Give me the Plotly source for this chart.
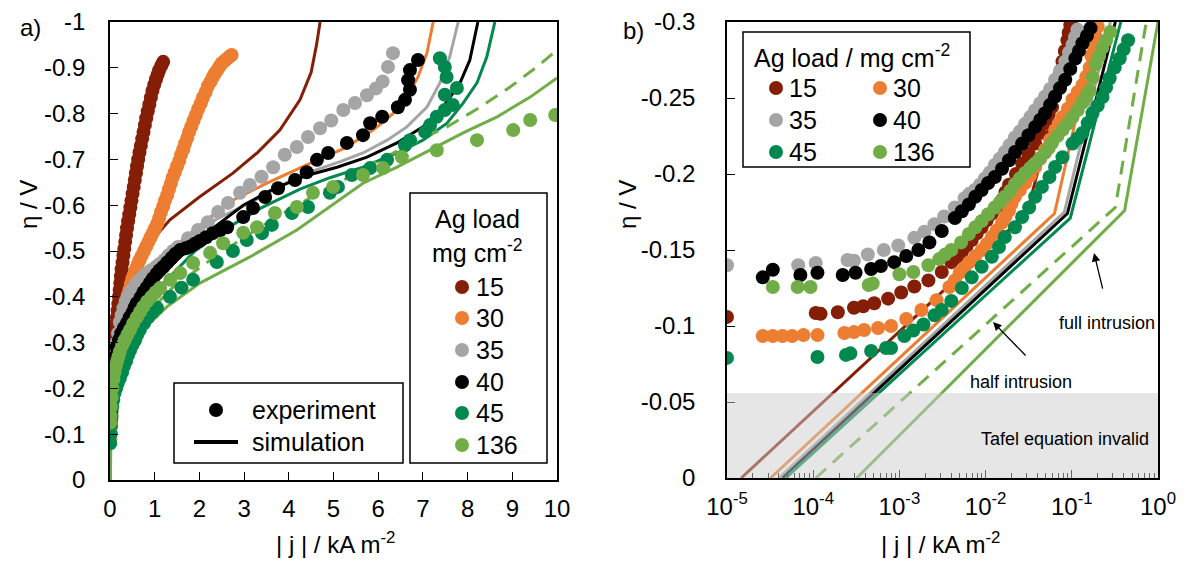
import plotly.graph_objects as go
import numpy as np

W, H = 1184, 562
FONT = "Liberation Sans, Arial, sans-serif"

LOADS = ["15", "30", "35", "40", "45", "136"]
COLORS = ["#841E06", "#ED7D31", "#A5A5A5", "#000000", "#00884F", "#70AD47"]

# ---------------- panel a) linear scale: experiment ----------------
j_a_exp_15 = [0.01,0.015,0.02,0.025,0.03,0.035,0.04,0.047,0.055,0.062,0.07,0.08,0.09,0.1,0.11,0.125,0.14,0.155,0.17,0.185,0.2,0.215,0.23,0.245,0.26,0.28,0.3,0.32,0.34,0.36,0.38,0.405,0.43,0.455,0.48,0.505,0.53,0.555,0.58,0.605,0.63,0.66,0.69,0.72,0.75,0.78,0.81,0.845,0.88,0.915,0.95,0.99,1.03,1.065,1.1,1.15,1.19]
eta_a_exp_15 = [-0.10,-0.115,-0.13,-0.145,-0.16,-0.175,-0.19,-0.205,-0.22,-0.235,-0.25,-0.265,-0.28,-0.295,-0.31,-0.325,-0.34,-0.355,-0.37,-0.385,-0.40,-0.415,-0.43,-0.445,-0.46,-0.475,-0.49,-0.505,-0.52,-0.535,-0.55,-0.565,-0.58,-0.595,-0.61,-0.625,-0.64,-0.655,-0.67,-0.685,-0.70,-0.715,-0.73,-0.745,-0.76,-0.775,-0.79,-0.805,-0.82,-0.835,-0.85,-0.863,-0.875,-0.885,-0.895,-0.905,-0.913]
j_a_exp_30 = [0.01,0.015,0.02,0.03,0.04,0.05,0.06,0.075,0.09,0.105,0.12,0.14,0.16,0.18,0.2,0.225,0.25,0.275,0.3,0.33,0.36,0.395,0.43,0.465,0.5,0.54,0.58,0.62,0.66,0.71,0.76,0.81,0.86,0.91,0.96,1.01,1.06,1.1,1.14,1.19,1.23,1.28,1.32,1.36,1.4,1.45,1.5,1.55,1.59,1.64,1.68,1.73,1.77,1.82,1.87,1.92,1.97,2.03,2.08,2.14,2.19,2.25,2.3,2.35,2.4,2.45,2.5,2.56,2.62,2.67,2.72]
eta_a_exp_30 = [-0.09,-0.105,-0.12,-0.135,-0.15,-0.165,-0.18,-0.195,-0.21,-0.225,-0.24,-0.255,-0.27,-0.285,-0.30,-0.315,-0.33,-0.345,-0.36,-0.375,-0.39,-0.403,-0.415,-0.428,-0.44,-0.45,-0.46,-0.47,-0.48,-0.49,-0.50,-0.51,-0.52,-0.53,-0.54,-0.55,-0.56,-0.572,-0.585,-0.597,-0.61,-0.622,-0.635,-0.647,-0.66,-0.672,-0.685,-0.697,-0.71,-0.722,-0.735,-0.747,-0.76,-0.772,-0.785,-0.797,-0.81,-0.822,-0.835,-0.847,-0.86,-0.87,-0.88,-0.888,-0.895,-0.903,-0.91,-0.915,-0.92,-0.924,-0.928]
j_a_exp_35 = [0.01,0.02,0.03,0.045,0.06,0.08,0.1,0.125,0.15,0.18,0.22,0.26,0.3,0.35,0.4,0.46,0.52,0.58,0.65,0.72,0.8,0.88,0.96,1.04,1.12,1.21,1.3,1.41,1.52,1.75,1.97,2.19,2.42,2.64,2.91,3.13,3.39,3.65,3.91,4.18,4.43,4.7,4.95,5.22,5.48,5.75,5.95,6.1,6.22,6.33]
eta_a_exp_35 = [-0.14,-0.16,-0.18,-0.20,-0.22,-0.24,-0.26,-0.28,-0.30,-0.32,-0.345,-0.36,-0.375,-0.39,-0.40,-0.41,-0.42,-0.428,-0.435,-0.443,-0.45,-0.455,-0.46,-0.466,-0.472,-0.48,-0.49,-0.50,-0.509,-0.528,-0.546,-0.563,-0.585,-0.605,-0.627,-0.644,-0.662,-0.683,-0.71,-0.727,-0.749,-0.768,-0.785,-0.808,-0.823,-0.84,-0.855,-0.87,-0.902,-0.932]
j_a_exp_40 = [0.01,0.02,0.03,0.045,0.06,0.08,0.1,0.125,0.15,0.2,0.25,0.31,0.38,0.44,0.5,0.55,0.6,0.68,0.75,0.82,0.89,0.96,1.04,1.11,1.19,1.28,1.38,1.47,1.57,1.69,1.8,1.9,2.01,2.15,2.3,2.46,2.62,2.98,3.2,3.47,3.76,4.14,4.4,4.63,4.88,5.3,5.66,5.82,6.09,6.44,6.6,6.71,6.67,6.71,6.89]
eta_a_exp_40 = [-0.13,-0.15,-0.17,-0.19,-0.21,-0.23,-0.25,-0.27,-0.29,-0.305,-0.32,-0.332,-0.343,-0.355,-0.365,-0.376,-0.386,-0.398,-0.41,-0.42,-0.43,-0.44,-0.45,-0.458,-0.465,-0.475,-0.485,-0.494,-0.502,-0.506,-0.51,-0.516,-0.522,-0.53,-0.539,-0.545,-0.552,-0.574,-0.594,-0.618,-0.637,-0.655,-0.672,-0.699,-0.714,-0.736,-0.753,-0.779,-0.793,-0.814,-0.83,-0.852,-0.873,-0.895,-0.917]
j_a_exp_45 = [0.005,0.01,0.02,0.035,0.05,0.075,0.1,0.135,0.17,0.22,0.27,0.31,0.36,0.4,0.45,0.5,0.56,0.61,0.67,0.76,0.85,0.95,1.05,1.34,1.6,1.86,2.39,2.75,3.06,3.4,3.62,4.07,4.43,4.92,5.1,5.41,5.82,6.2,6.6,6.71,7.05,7.16,7.31,7.49,7.67,7.49,7.76,7.53,7.49,7.38]
eta_a_exp_45 = [-0.08,-0.10,-0.12,-0.14,-0.16,-0.175,-0.19,-0.20,-0.21,-0.222,-0.235,-0.248,-0.26,-0.272,-0.284,-0.295,-0.305,-0.317,-0.328,-0.342,-0.355,-0.366,-0.376,-0.40,-0.42,-0.437,-0.476,-0.50,-0.524,-0.539,-0.557,-0.583,-0.596,-0.627,-0.64,-0.666,-0.681,-0.699,-0.731,-0.742,-0.76,-0.775,-0.793,-0.808,-0.819,-0.841,-0.856,-0.88,-0.902,-0.921]
j_a_exp_136 = [0.005,0.01,0.02,0.035,0.05,0.075,0.1,0.13,0.16,0.19,0.22,0.27,0.33,0.39,0.45,0.52,0.6,0.67,0.74,0.83,0.93,1.02,1.12,1.35,1.57,1.86,2.24,2.53,2.98,3.29,3.69,4.18,4.54,4.99,5.66,6.11,6.53,7.31,8.21,9.02,9.4,9.96]
eta_a_exp_136 = [-0.125,-0.14,-0.16,-0.18,-0.2,-0.22,-0.235,-0.248,-0.26,-0.27,-0.28,-0.293,-0.305,-0.317,-0.328,-0.342,-0.355,-0.367,-0.378,-0.39,-0.40,-0.41,-0.419,-0.437,-0.452,-0.474,-0.496,-0.517,-0.54,-0.552,-0.583,-0.596,-0.627,-0.64,-0.666,-0.681,-0.705,-0.72,-0.742,-0.764,-0.786,-0.797]

# ---------------- panel a) simulation ----------------
j_a_sim_15 = [0,0.01,0.05,0.2,0.5,1.0,1.34,2.0,2.75,3.3,3.8,4.25,4.5,4.62,4.7]
eta_a_sim_15 = [0,-0.2,-0.3,-0.38,-0.47,-0.53,-0.568,-0.618,-0.67,-0.715,-0.764,-0.83,-0.89,-0.95,-1.0]
j_a_sim_30 = [0,0.005,0.02,0.08,0.2,0.45,0.8,1.2,1.7,2.24,2.75,3.51,4.4,5.26,5.9,6.33,6.64,6.89,7.09,7.23]
eta_a_sim_30 = [0,-0.1,-0.2,-0.28,-0.34,-0.4,-0.45,-0.49,-0.53,-0.574,-0.611,-0.648,-0.688,-0.725,-0.765,-0.80,-0.836,-0.88,-0.932,-1.0]
j_a_sim_35 = [0,0.005,0.02,0.08,0.2,0.45,0.8,1.3,1.8,2.39,3.13,4.25,5.15,5.66,6.2,6.64,7.09,7.38,7.6,7.79]
eta_a_sim_35 = [0,-0.1,-0.18,-0.26,-0.32,-0.38,-0.43,-0.48,-0.53,-0.57,-0.605,-0.665,-0.695,-0.714,-0.742,-0.771,-0.814,-0.867,-0.924,-1.0]
j_a_sim_40 = [0,0.005,0.02,0.08,0.2,0.45,0.8,1.3,1.8,2.24,2.98,3.65,4.4,5.08,5.75,6.42,7.0,7.45,7.83,8.05,8.23]
eta_a_sim_40 = [0,-0.1,-0.17,-0.24,-0.3,-0.36,-0.41,-0.46,-0.51,-0.545,-0.6,-0.635,-0.665,-0.683,-0.705,-0.736,-0.771,-0.814,-0.867,-0.917,-1.0]
j_a_sim_45 = [0,0.005,0.02,0.08,0.2,0.45,0.8,1.3,1.9,2.62,3.36,4.25,4.92,5.66,6.42,7.0,7.54,7.9,8.21,8.43,8.61]
eta_a_sim_45 = [0,-0.08,-0.15,-0.22,-0.28,-0.34,-0.39,-0.44,-0.5,-0.55,-0.593,-0.635,-0.66,-0.683,-0.714,-0.742,-0.779,-0.823,-0.867,-0.924,-1.0]
j_a_sim_136_half = [0.005,0.01,0.05,0.15,0.4,0.8,1.4,2.1,3.0,4.0,4.92,5.37,6.04,6.78,7.54,8.28,8.95,9.55,10.0]
eta_a_sim_136_half = [0,-0.1,-0.17,-0.23,-0.3,-0.36,-0.42,-0.47,-0.53,-0.59,-0.64,-0.662,-0.699,-0.736,-0.771,-0.814,-0.858,-0.902,-0.939]
j_a_sim_136_full = [0.01,0.02,0.05,0.11,0.22,0.45,0.74,1.27,2.01,3.13,4.18,4.92,5.66,6.42,7.16,7.9,8.66,9.4,10.0]
eta_a_sim_136_full = [0,-0.1,-0.14,-0.153,-0.197,-0.269,-0.328,-0.378,-0.43,-0.487,-0.546,-0.596,-0.648,-0.683,-0.72,-0.758,-0.793,-0.836,-0.878]

# ---------------- panel b) log scale: experiment ----------------
j_b_exp_15 = [1.0e-5,1.07e-4,1.22e-4,1.93e-4,2.97e-4,3.8e-4,5.1e-4,7.4e-4,1.05e-3,1.49e-3,2.17e-3,3.1e-3,4.0e-3,5.3e-3,6.9e-3,9.0e-3,1.18e-2,1.55e-2,1.87e-2,2.65e-2,3.76e-2,4.9e-2,5.9e-2,6.8e-2,7.8e-2,8.9e-2,9.6e-2,
              4.6e-3,6.0e-3,7.9e-3,1.03e-2,1.35e-2,1.7e-2,2.25e-2,3.15e-2,4.3e-2,5.4e-2,6.3e-2,7.3e-2,8.3e-2,9.2e-2]
eta_b_exp_15 = [-0.106,-0.1086,-0.108,-0.109,-0.112,-0.113,-0.115,-0.118,-0.122,-0.126,-0.130,-0.1355,-0.142,-0.1487,-0.1566,-0.165,-0.174,-0.183,-0.193,-0.207,-0.220,-0.2335,-0.244,-0.2585,-0.274,-0.288,-0.298,
                -0.145,-0.1527,-0.161,-0.1695,-0.1785,-0.188,-0.200,-0.2135,-0.227,-0.239,-0.251,-0.266,-0.281,-0.293]
j_b_exp_30 = [2.6e-5,3.4e-5,4.4e-5,5.7e-5,7.7e-5,1.12e-4,2.3e-4,2.97e-4,3.9e-4,5.65e-4,8.0e-4,1.2e-3,1.8e-3,2.7e-3,3.8e-3,5.0e-3,6.5e-3,9.0e-3,1.18e-2,1.55e-2,1.87e-2,2.19e-2,2.87e-2,3.76e-2,4.9e-2,6.4e-2,7.8e-2,1.02e-1,1.33e-1,1.61e-1,1.74e-1,2.0e-1,
              4.4e-3,5.7e-3,7.6e-3,1.03e-2,1.35e-2,1.7e-2,2.0e-2,2.5e-2,3.3e-2,4.3e-2,5.6e-2,7.1e-2,9.0e-2,1.17e-1,1.47e-1,1.68e-1,1.87e-1]
eta_b_exp_30 = [-0.0934,-0.0934,-0.0934,-0.0934,-0.094,-0.094,-0.0954,-0.096,-0.0974,-0.0987,-0.100,-0.1046,-0.1105,-0.117,-0.1257,-0.135,-0.142,-0.150,-0.1586,-0.168,-0.176,-0.185,-0.194,-0.2046,-0.216,-0.229,-0.2375,-0.249,-0.2586,-0.270,-0.285,-0.297,
                -0.130,-0.1385,-0.146,-0.154,-0.163,-0.172,-0.1805,-0.1895,-0.199,-0.210,-0.2225,-0.233,-0.243,-0.254,-0.264,-0.278,-0.291]
j_b_exp_35 = [1.0e-5,6.7e-5,1.07e-4,2.5e-4,2.97e-4,4.3e-4,6.6e-4,9.7e-4,1.49e-3,1.95e-3,2.55e-3,3.3e-3,4.4e-3,5.7e-3,7.5e-3,9.8e-3,1.28e-2,1.67e-2,2.19e-2,2.87e-2,3.76e-2,4.9e-2,6.4e-2,8.4e-2,1.02e-1,1.16e-1,
              6.5e-3,8.6e-3,1.12e-2,1.46e-2,1.9e-2,2.5e-2,3.3e-2,4.3e-2,5.6e-2,7.3e-2,9.3e-2,1.09e-1]
eta_b_exp_35 = [-0.140,-0.140,-0.1415,-0.1434,-0.143,-0.147,-0.150,-0.153,-0.158,-0.162,-0.167,-0.172,-0.178,-0.184,-0.1895,-0.197,-0.206,-0.2145,-0.224,-0.233,-0.242,-0.251,-0.262,-0.274,-0.285,-0.295,
                -0.187,-0.193,-0.201,-0.210,-0.219,-0.228,-0.2375,-0.2465,-0.256,-0.268,-0.280,-0.290]
j_b_exp_40 = [2.6e-5,3.4e-5,7.1e-5,1.12e-4,2.2e-4,3.1e-4,4.7e-4,6.1e-4,8.7e-4,1.2e-3,1.66e-3,2.23e-3,3.1e-3,4.4e-3,6.4e-3,9.0e-3,1.28e-2,1.87e-2,2.65e-2,3.76e-2,4.9e-2,6.4e-2,8.4e-2,1.10e-1,1.33e-1,1.65e-1,
              5.3e-3,7.6e-3,1.07e-2,1.55e-2,2.2e-2,3.15e-2,4.3e-2,5.6e-2,7.3e-2,9.6e-2,1.21e-1,1.5e-1]
eta_b_exp_40 = [-0.132,-0.137,-0.1336,-0.135,-0.1336,-0.135,-0.1375,-0.1395,-0.142,-0.146,-0.150,-0.155,-0.1625,-0.171,-0.180,-0.1895,-0.198,-0.209,-0.220,-0.231,-0.240,-0.251,-0.262,-0.276,-0.286,-0.296,
                -0.1755,-0.185,-0.194,-0.2035,-0.2145,-0.2255,-0.2355,-0.2455,-0.2565,-0.269,-0.281,-0.291]
j_b_exp_45 = [1.0e-5,1.12e-4,2.4e-4,2.7e-4,4.7e-4,7.0e-4,8.0e-4,1.14e-3,1.45e-3,1.9e-3,2.55e-3,3.1e-3,4.0e-3,5.3e-3,6.9e-3,9.0e-3,1.18e-2,1.43e-2,1.67e-2,2.19e-2,2.65e-2,3.2e-2,3.76e-2,4.5e-2,5.5e-2,6.4e-2,7.8e-2,1.02e-1,1.33e-1,1.74e-1,2.27e-1,2.75e-1,3.6e-1,4.5e-1,
              1.17e-1,1.53e-1,2.0e-1,2.5e-1,3.15e-1,4.0e-1]
eta_b_exp_45 = [-0.079,-0.0796,-0.081,-0.082,-0.0836,-0.0855,-0.0855,-0.0934,-0.097,-0.101,-0.107,-0.1105,-0.1165,-0.125,-0.132,-0.139,-0.1455,-0.152,-0.1586,-0.165,-0.1717,-0.178,-0.185,-0.1915,-0.198,-0.2046,-0.211,-0.220,-0.227,-0.240,-0.2507,-0.263,-0.276,-0.288,
                -0.2235,-0.2335,-0.245,-0.257,-0.270,-0.282]
j_b_exp_136 = [3.4e-5,6.6e-5,9.3e-5,4.4e-4,4.9e-4,1.0e-3,1.45e-3,2.17e-3,2.9e-3,4.0e-3,5.2e-3,6.4e-3,9.0e-3,1.28e-2,1.67e-2,2.19e-2,2.87e-2,3.76e-2,4.9e-2,5.9e-2,7.8e-2,1.02e-1,1.33e-1,1.61e-1,1.89e-1,2.27e-1,2.8e-1,
               3.4e-3,7.6e-3,1.07e-2,1.47e-2,1.93e-2,2.5e-2,3.3e-2,4.3e-2,5.4e-2,6.8e-2,8.9e-2,1.17e-1,1.47e-1,1.75e-1,2.07e-1,2.5e-1]
eta_b_exp_136 = [-0.1257,-0.1257,-0.1257,-0.127,-0.128,-0.134,-0.1355,-0.140,-0.144,-0.150,-0.155,-0.1605,-0.169,-0.178,-0.185,-0.1935,-0.2007,-0.207,-0.214,-0.2205,-0.229,-0.2375,-0.247,-0.255,-0.272,-0.283,-0.2935,
                 -0.147,-0.165,-0.1735,-0.1815,-0.189,-0.197,-0.204,-0.2105,-0.217,-0.225,-0.233,-0.242,-0.251,-0.2635,-0.2775,-0.288]

# ---------------- panel b) Tafel simulation ----------------
j_b_sim_15 = [1.46e-5, 3.0e-2, 1.15e-1]
eta_b_sim_15 = [0, -0.174, -0.30]
j_b_sim_30 = [3.2e-5, 6.3e-2, 2.0e-1]
eta_b_sim_30 = [0, -0.174, -0.30]
j_b_sim_35 = [4.0e-5, 8.2e-2, 2.8e-1]
eta_b_sim_35 = [0, -0.175, -0.30]
j_b_sim_40 = [4.4e-5, 8.9e-2, 3.2e-1]
eta_b_sim_40 = [0, -0.174, -0.30]
j_b_sim_45 = [4.8e-5, 9.6e-2, 3.7e-1]
eta_b_sim_45 = [0, -0.171, -0.30]
j_b_sim_136_half = [1.07e-4, 3.2e-1, 7.3e-1]
eta_b_sim_136_half = [0, -0.178, -0.30]
j_b_sim_136_full = [3.2e-4, 4.1e-1, 1.0]
eta_b_sim_136_full = [0, -0.176, -0.30]

A_EXP = [(j_a_exp_15, eta_a_exp_15), (j_a_exp_30, eta_a_exp_30), (j_a_exp_35, eta_a_exp_35),
         (j_a_exp_40, eta_a_exp_40), (j_a_exp_45, eta_a_exp_45), (j_a_exp_136, eta_a_exp_136)]
B_EXP = [(j_b_exp_15, eta_b_exp_15), (j_b_exp_30, eta_b_exp_30), (j_b_exp_35, eta_b_exp_35),
         (j_b_exp_40, eta_b_exp_40), (j_b_exp_45, eta_b_exp_45), (j_b_exp_136, eta_b_exp_136)]
A_SIM = [(j_a_sim_15, eta_a_sim_15, 0, "solid"), (j_a_sim_30, eta_a_sim_30, 1, "solid"),
         (j_a_sim_35, eta_a_sim_35, 2, "solid"), (j_a_sim_40, eta_a_sim_40, 3, "solid"),
         (j_a_sim_45, eta_a_sim_45, 4, "solid"), (j_a_sim_136_half, eta_a_sim_136_half, 5, "14px,9px"),
         (j_a_sim_136_full, eta_a_sim_136_full, 5, "solid")]
B_SIM = [(j_b_sim_15, eta_b_sim_15, 0, "solid"), (j_b_sim_30, eta_b_sim_30, 1, "solid"),
         (j_b_sim_35, eta_b_sim_35, 2, "solid"), (j_b_sim_40, eta_b_sim_40, 3, "solid"),
         (j_b_sim_45, eta_b_sim_45, 4, "solid"), (j_b_sim_136_half, eta_b_sim_136_half, 5, "14px,9px"),
         (j_b_sim_136_full, eta_b_sim_136_full, 5, "solid")]

MS = 14
LW = 3

fig = go.Figure()
for xs, ys, ci, dash in A_SIM:
    fig.add_trace(go.Scatter(x=xs, y=ys, mode="lines", line=dict(color=COLORS[ci], width=LW, dash=dash),
                             xaxis="x", yaxis="y", showlegend=False, hoverinfo="skip"))
for (xs, ys), c in zip(A_EXP, COLORS):
    fig.add_trace(go.Scatter(x=xs, y=ys, mode="markers", marker=dict(color=c, size=MS, line=dict(width=0)),
                             xaxis="x", yaxis="y", showlegend=False))
for xs, ys, ci, dash in B_SIM:
    fig.add_trace(go.Scatter(x=xs, y=ys, mode="lines", line=dict(color=COLORS[ci], width=LW, dash=dash),
                             xaxis="x2", yaxis="y2", showlegend=False, hoverinfo="skip"))
for (xs, ys), c in zip(B_EXP, COLORS):
    fig.add_trace(go.Scatter(x=xs, y=ys, mode="markers", marker=dict(color=c, size=MS, line=dict(width=0)),
                             xaxis="x2", yaxis="y2", showlegend=False))

def px(x): return x / W
def py(y): return 1 - y / H

axis_common = dict(showline=True, linecolor="black", linewidth=1.5, mirror=True, ticks="inside",
                   tickcolor="black", ticklen=8, tickwidth=1.3, showgrid=False, zeroline=False,
                   automargin=False, tickfont=dict(family=FONT, size=24, color="black"))

a_yvals = [0, -0.1, -0.2, -0.3, -0.4, -0.5, -0.6, -0.7, -0.8, -0.9, -1.0]
a_ytext = ["0", "-0.1", "-0.2", "-0.3", "-0.4", "-0.5", "-0.6", "-0.7", "-0.8", "-0.9", "-1"]
a_xvals = list(range(0, 11))
b_yvals = [0, -0.05, -0.1, -0.15, -0.2, -0.25, -0.3]
b_ytext = ["0", "-0.05", "-0.1", "-0.15", "-0.2", "-0.25", "-0.3"]
b_xvals = [1e-5, 1e-4, 1e-3, 1e-2, 1e-1, 1]
b_xtext = ["10<sup>-5</sup>", "10<sup>-4</sup>", "10<sup>-3</sup>", "10<sup>-2</sup>", "10<sup>-1</sup>", "10<sup>0</sup>"]
b_minor = [m * 10.0 ** e for e in range(-5, 0) for m in range(2, 10)]

fig.update_layout(
    width=W, height=H, margin=dict(l=0, r=0, t=0, b=0, autoexpand=False),
    paper_bgcolor="white", plot_bgcolor="white", showlegend=False,
    font=dict(family=FONT, size=24, color="black"),
    xaxis=dict(domain=[px(110), px(557)], range=[0, 10], tickmode="array", tickvals=a_xvals,
               ticklabelstandoff=6, **axis_common),
    yaxis=dict(domain=[py(480), py(22)], range=[0, -1], tickmode="array", tickvals=a_yvals,
               ticktext=a_ytext, ticklabelstandoff=18, **axis_common),
    xaxis2=dict(domain=[px(727), px(1158)], type="log", range=[-5, 0], tickmode="array",
                tickvals=b_xvals, ticktext=b_xtext, anchor="y2", ticklabelstandoff=6,
                minor=dict(tickmode="array", tickvals=b_minor, ticks="inside", ticklen=5,
                           tickcolor="black", tickwidth=1),
                **axis_common),
    yaxis2=dict(domain=[py(478), py(22)], range=[0, -0.3], tickmode="array", tickvals=b_yvals,
                ticktext=b_ytext, anchor="x2", ticklabelstandoff=25, **axis_common),
)

shapes = []
ann = []

# Tafel-invalid region (panel b)
shapes.append(dict(type="rect", xref="x2 domain", yref="y2", x0=0, x1=1, y0=0, y1=-0.056,
                   fillcolor="rgba(205,205,205,0.5)", line=dict(width=0), layer="above"))
ann.append(dict(x=np.log10(0.083), y=-0.0257, xref="x2", yref="y2", text="Tafel equation invalid",
                showarrow=False, font=dict(size=18, family=FONT)))
ann.append(dict(x=np.log10(0.256), y=-0.102, xref="x2", yref="y2", text="full intrusion",
                showarrow=False, font=dict(size=18, family=FONT)))
ann.append(dict(x=np.log10(0.0257), y=-0.063, xref="x2", yref="y2", text="half intrusion",
                showarrow=False, font=dict(size=18, family=FONT)))
ann.append(dict(x=np.log10(0.181), y=-0.148, xref="x2", yref="y2", text="", showarrow=True,
                arrowhead=2, arrowsize=1.3, arrowwidth=1.3, arrowcolor="black", ax=9, ay=37))
ann.append(dict(x=np.log10(0.0122), y=-0.1026, xref="x2", yref="y2", text="", showarrow=True,
                arrowhead=2, arrowsize=1.3, arrowwidth=1.3, arrowcolor="black", ax=34, ay=35))

def ptext(x, y, text, size=24, xanchor="center", angle=0):
    ann.append(dict(x=px(x), y=py(y), xref="paper", yref="paper", text=text, showarrow=False,
                    xanchor=xanchor, yanchor="middle", textangle=angle,
                    font=dict(size=size, family=FONT, color="black")))

def pbox(x0, y0, x1, y1):
    shapes.append(dict(type="rect", xref="paper", yref="paper", x0=px(x0), x1=px(x1), y0=py(y1), y1=py(y0),
                       line=dict(color="black", width=1.5), fillcolor="white", layer="above"))

def pdot(cx, cy, color, r=7):
    shapes.append(dict(type="circle", xref="paper", yref="paper", x0=px(cx - r), x1=px(cx + r),
                       y0=py(cy + r), y1=py(cy - r), fillcolor=color, line=dict(width=0), layer="above"))

# panel labels and axis titles
ptext(30, 27, "a)", 24)
ptext(633, 30, "b)", 24)
ptext(28, 205, "η / V", 24, angle=-90)
ptext(627, 205, "η / V", 24, angle=-90)
ptext(335, 543, "| j | / kA m<sup>-2</sup>", 24)
ptext(940, 543, "| j | / kA m<sup>-2</sup>", 24)

# experiment / simulation box
pbox(174, 383, 403, 463)
pdot(216, 410, "black")
ptext(250, 410, "experiment", 25, "left")
shapes.append(dict(type="line", xref="paper", yref="paper", x0=px(194), x1=px(238), y0=py(442), y1=py(442),
                   line=dict(color="black", width=4), layer="above"))
ptext(250, 442, "simulation", 25, "left")

# Ag load box (panel a)
pbox(410, 193, 547, 463)
ptext(477, 219, "Ag load", 25)
ptext(477, 251, "mg cm<sup>-2</sup>", 25)
rows_a = [287, 318, 350, 382, 413, 445]
for lab, c, yy in zip(LOADS, COLORS, rows_a):
    pdot(462, yy, c)
    ptext(474, yy, lab, 25, "left")

# Ag load box (panel b)
pbox(743, 32, 970, 167)
ptext(752, 56, "Ag load / mg cm<sup>-2</sup>", 25, "left")
pos_b = [(776, 88), (880, 88), (776, 120), (880, 120), (776, 152), (880, 152)]
for lab, c, (xx, yy) in zip(LOADS, COLORS, pos_b):
    pdot(xx, yy, c)
    ptext(xx + 11, yy, lab, 25, "left")

fig.update_layout(shapes=shapes, annotations=ann)
fig.write_html("out.html")
